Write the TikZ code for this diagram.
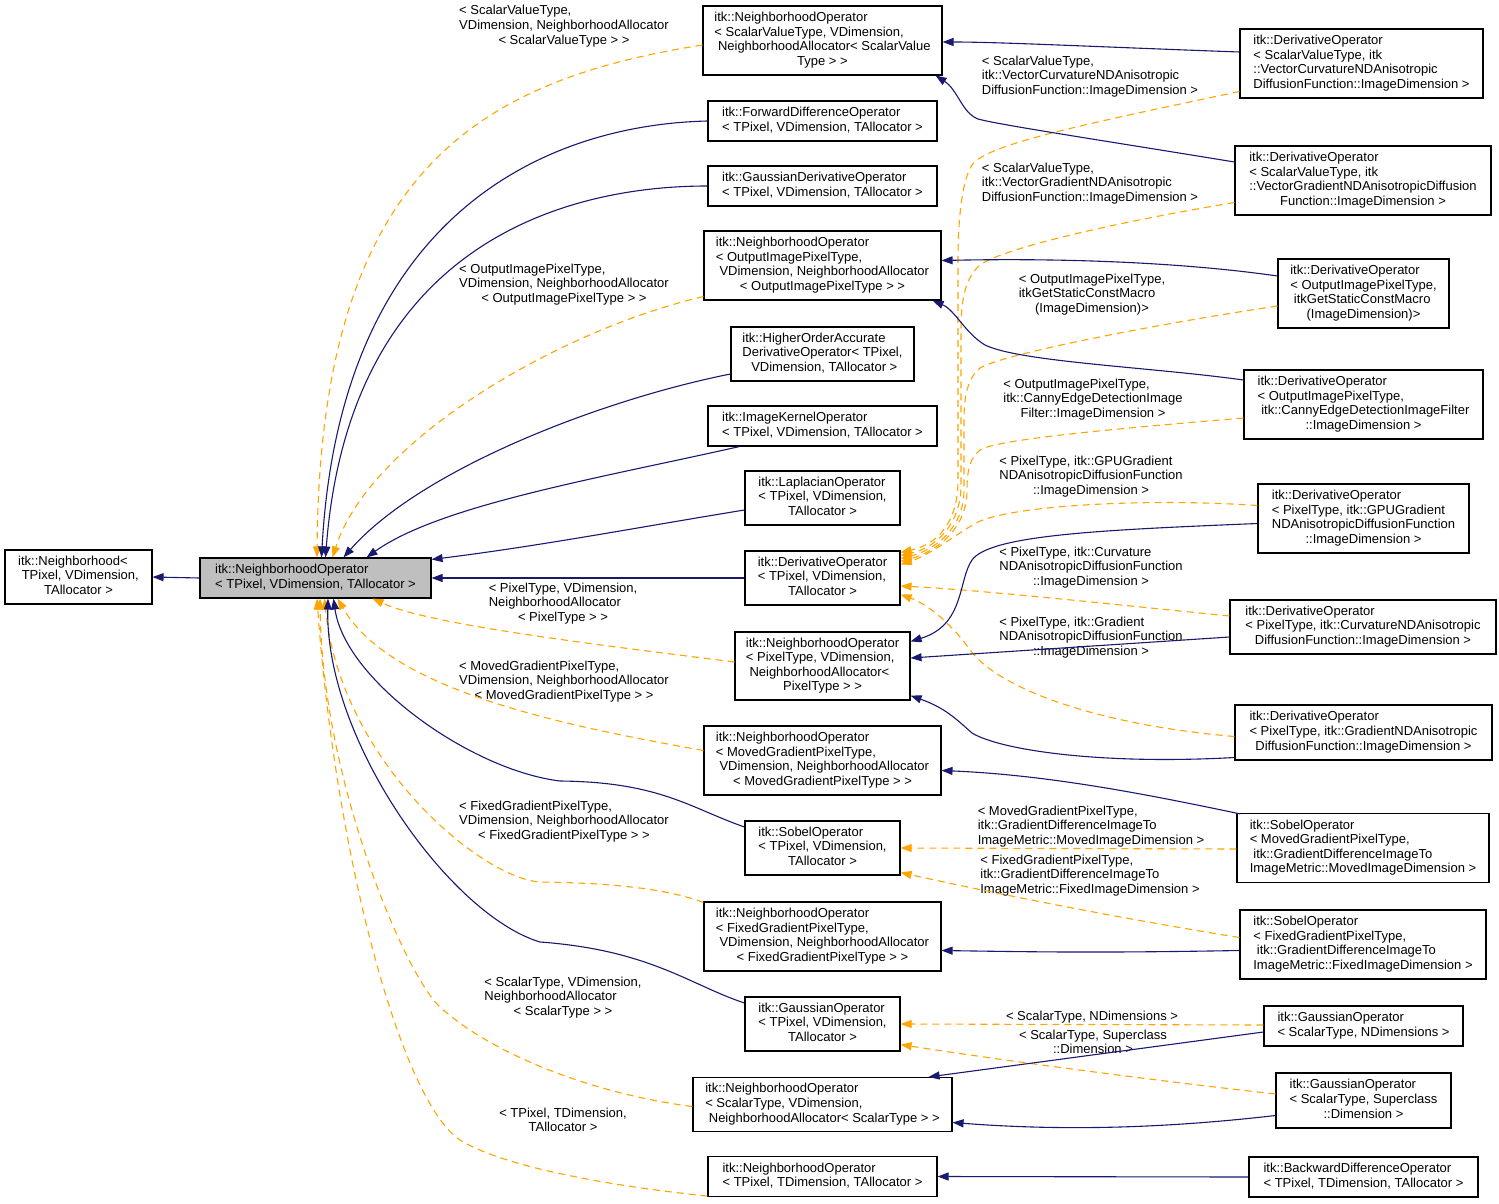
\documentclass[tikz,border=0pt]{standalone}
\usepackage{fontspec}
\setmainfont{Liberation Sans}
\usetikzlibrary{calc,arrows.meta}
\definecolor{navy}{HTML}{191970}
\definecolor{dorange}{HTML}{FFA500}
\definecolor{basegray}{HTML}{BFBFBF}
\newcommand{\tb}[1]{\begin{tabular}{@{}l@{}}#1\end{tabular}}
\newcommand{\lc}[1]{\multicolumn{1}{@{}c@{}}{#1}}
\tikzset{
  cls/.style={draw=black, line width=1.1pt, fill=white, inner sep=0pt, font=\fontsize{13}{14.6}\selectfont},
  base/.style={cls, fill=basegray},
  sz/.style n args={2}{minimum width=#1pt, minimum height=#2pt},
  lbl/.style={inner sep=0pt, font=\fontsize{13}{14.6}\selectfont},
  inh/.style={draw=navy, line width=1.1pt, -{Triangle[length=11pt,width=8pt]}},
  tpl/.style={draw=dorange, line width=1.1pt, dash pattern=on 7pt off 5pt, -{Triangle[length=11pt,width=8pt]}}
}
\begin{document}
\begin{tikzpicture}[x=1pt,y=-1pt]
\fill[white] (0,0) rectangle (1499,1204);
\useasboundingbox (0,0) rectangle (1499,1204);

% ---------- nodes ----------
\node[base, sz={231}{40}] (Main) at (315.5,578) {\tb{itk::NeighborhoodOperator\\< TPixel, VDimension, TAllocator >}};
\node[cls, sz={147}{54}] (N0) at (78.5,577) {\tb{itk::Neighborhood<\\\ TPixel, VDimension,\\\lc{TAllocator >}}};

\node[cls, sz={239}{69}] (NOSV) at (822.5,40.5) {\tb{itk::NeighborhoodOperator\\< ScalarValueType, VDimension,\\\ NeighborhoodAllocator< ScalarValue\\\lc{Type > >}}};
\node[cls, sz={229}{40}] (FDO) at (822.5,121) {\tb{itk::ForwardDifferenceOperator\\< TPixel, VDimension, TAllocator >}};
\node[cls, sz={229}{40}] (GDO) at (822.5,186) {\tb{itk::GaussianDerivativeOperator\\< TPixel, VDimension, TAllocator >}};
\node[cls, sz={237}{69}] (NOOut) at (822.5,265.5) {\tb{itk::NeighborhoodOperator\\< OutputImagePixelType,\\\ VDimension, NeighborhoodAllocator\\\lc{< OutputImagePixelType > >}}};
\node[cls, sz={183}{54}] (HOA) at (822.5,354) {\tb{itk::HigherOrderAccurate\\DerivativeOperator< TPixel,\\\lc{\ VDimension, TAllocator >}}};
\node[cls, sz={229}{40}] (IKO) at (822.5,426) {\tb{itk::ImageKernelOperator\\< TPixel, VDimension, TAllocator >}};
\node[cls, sz={155}{54}] (LO) at (822.5,498) {\tb{itk::LaplacianOperator\\< TPixel, VDimension,\\\lc{TAllocator >}}};
\node[cls, sz={155}{54}] (DO) at (822.5,578) {\tb{itk::DerivativeOperator\\< TPixel, VDimension,\\\lc{TAllocator >}}};
\node[cls, sz={175}{68}] (NOPix) at (822.5,666) {\tb{itk::NeighborhoodOperator\\< PixelType, VDimension,\\\ NeighborhoodAllocator<\\\lc{PixelType > >}}};
\node[cls, sz={237}{69}] (NOMoved) at (822.5,760.5) {\tb{itk::NeighborhoodOperator\\< MovedGradientPixelType,\\\ VDimension, NeighborhoodAllocator\\\lc{< MovedGradientPixelType > >}}};
\node[cls, sz={155}{54}] (SO) at (822.5,848) {\tb{itk::SobelOperator\\< TPixel, VDimension,\\\lc{TAllocator >}}};
\node[cls, sz={237}{69}] (NOFixed) at (822.5,936.5) {\tb{itk::NeighborhoodOperator\\< FixedGradientPixelType,\\\ VDimension, NeighborhoodAllocator\\\lc{< FixedGradientPixelType > >}}};
\node[cls, sz={155}{54}] (GO) at (822.5,1024) {\tb{itk::GaussianOperator\\< TPixel, VDimension,\\\lc{TAllocator >}}};
\node[cls, sz={259}{54}] (NOScalar) at (822.5,1104.5) {\tb{itk::NeighborhoodOperator\\< ScalarType, VDimension,\\\lc{\ NeighborhoodAllocator< ScalarType > >}}};
\node[cls, sz={229}{40}] (NOTDim) at (822.5,1176.5) {\tb{itk::NeighborhoodOperator\\< TPixel, TDimension, TAllocator >}};

\node[cls, sz={243}{69}] (DOVC) at (1361.5,63.5) {\tb{itk::DerivativeOperator\\< ScalarValueType, itk\\::VectorCurvatureNDAnisotropic\\\lc{DiffusionFunction::ImageDimension >}}};
\node[cls, sz={256}{69}] (DOVG) at (1363,180.5) {\tb{itk::DerivativeOperator\\< ScalarValueType, itk\\::VectorGradientNDAnisotropicDiffusion\\\lc{Function::ImageDimension >}}};
\node[cls, sz={171}{69}] (DOMacro) at (1363.5,293.5) {\tb{itk::DerivativeOperator\\< OutputImagePixelType,\\\ itkGetStaticConstMacro\\\lc{(ImageDimension)>}}};
\node[cls, sz={239}{69}] (DOCanny) at (1363.5,404.5) {\tb{itk::DerivativeOperator\\< OutputImagePixelType,\\\ itk::CannyEdgeDetectionImageFilter\\\lc{::ImageDimension >}}};
\node[cls, sz={211}{69}] (DOGPU) at (1363.5,518.5) {\tb{itk::DerivativeOperator\\< PixelType, itk::GPUGradient\\NDAnisotropicDiffusionFunction\\\lc{::ImageDimension >}}};
\node[cls, sz={266}{54}] (DOCurv) at (1363,627) {\tb{itk::DerivativeOperator\\< PixelType, itk::CurvatureNDAnisotropic\\\lc{DiffusionFunction::ImageDimension >}}};
\node[cls, sz={257}{55}] (DOGrad) at (1363.5,732.5) {\tb{itk::DerivativeOperator\\< PixelType, itk::GradientNDAnisotropic\\\lc{DiffusionFunction::ImageDimension >}}};
\node[cls, sz={252}{69}] (SOMoved) at (1363,848) {\tb{itk::SobelOperator\\< MovedGradientPixelType,\\\ itk::GradientDifferenceImageTo\\\lc{ImageMetric::MovedImageDimension >}}};
\node[cls, sz={246}{69}] (SOFixed) at (1363,944.5) {\tb{itk::SobelOperator\\< FixedGradientPixelType,\\\ itk::GradientDifferenceImageTo\\\lc{ImageMetric::FixedImageDimension >}}};
\node[cls, sz={199}{40}] (GOND) at (1363.5,1026) {\tb{itk::GaussianOperator\\< ScalarType, NDimensions >}};
\node[cls, sz={175}{55}] (GOSuper) at (1363.5,1100.5) {\tb{itk::GaussianOperator\\< ScalarType, Superclass\\\lc{::Dimension >}}};
\node[cls, sz={229}{40}] (BDO) at (1363.5,1177) {\tb{itk::BackwardDifferenceOperator\\< TPixel, TDimension, TAllocator >}};

% ---------- edge labels ----------
\node[lbl] (lSV) at (564,26.5) {\tb{< ScalarValueType,\\VDimension, NeighborhoodAllocator\\\lc{< ScalarValueType > >}}};
\node[lbl] (lOut) at (564,285) {\tb{< OutputImagePixelType,\\VDimension, NeighborhoodAllocator\\\lc{< OutputImagePixelType > >}}};
\node[lbl] (lPix) at (563,604) {\tb{< PixelType, VDimension,\\NeighborhoodAllocator\\\lc{< PixelType > >}}};
\node[lbl] (lMoved) at (564,682) {\tb{< MovedGradientPixelType,\\VDimension, NeighborhoodAllocator\\\lc{< MovedGradientPixelType > >}}};
\node[lbl] (lFixed) at (564,822) {\tb{< FixedGradientPixelType,\\VDimension, NeighborhoodAllocator\\\lc{< FixedGradientPixelType > >}}};
\node[lbl] (lScalar) at (563,998) {\tb{< ScalarType, VDimension,\\NeighborhoodAllocator\\\lc{< ScalarType > >}}};
\node[lbl] (lTDim) at (563,1121.5) {\tb{< TPixel, TDimension,\\\lc{TAllocator >}}};
\node[lbl] (lVC) at (1090,77) {\tb{< ScalarValueType,\\itk::VectorCurvatureNDAnisotropic\\\lc{DiffusionFunction::ImageDimension >}}};
\node[lbl] (lVG) at (1090,184) {\tb{< ScalarValueType,\\itk::VectorGradientNDAnisotropic\\\lc{DiffusionFunction::ImageDimension >}}};
\node[lbl] (lMacro) at (1092,295) {\tb{< OutputImagePixelType,\\itkGetStaticConstMacro\\\lc{(ImageDimension)>}}};
\node[lbl] (lCanny) at (1093,400) {\tb{< OutputImagePixelType,\\itk::CannyEdgeDetectionImage\\\lc{Filter::ImageDimension >}}};
\node[lbl] (lGPU) at (1091,477) {\tb{< PixelType, itk::GPUGradient\\NDAnisotropicDiffusionFunction\\\lc{::ImageDimension >}}};
\node[lbl] (lCurv) at (1091,568) {\tb{< PixelType, itk::Curvature\\NDAnisotropicDiffusionFunction\\\lc{::ImageDimension >}}};
\node[lbl] (lGrad) at (1091,638) {\tb{< PixelType, itk::Gradient\\NDAnisotropicDiffusionFunction\\\lc{::ImageDimension >}}};
\node[lbl] (lMovedR) at (1091,827) {\tb{< MovedGradientPixelType,\\itk::GradientDifferenceImageTo\\\lc{ImageMetric::MovedImageDimension >}}};
\node[lbl] (lFixedR) at (1090,876) {\tb{< FixedGradientPixelType,\\itk::GradientDifferenceImageTo\\\lc{ImageMetric::FixedImageDimension >}}};
\node[lbl] (lND) at (1092,1017) {< ScalarType, NDimensions >};
\node[lbl] (lSuper) at (1093,1043.5) {\tb{< ScalarType, Superclass\\\lc{::Dimension >}}};

% ---------- edges into Main ----------
\draw[inh] (Main.west) -- (N0.east);
\draw[tpl] ($(NOSV.west)+(0,4.5)$) .. controls (480,80) and (320,170) .. ($(Main.north)+(1.5,0)$);
\draw[inh] (FDO.west) .. controls (540,125) and (340,220) .. ($(Main.north)+(6,0)$);
\draw[inh] (GDO.west) .. controls (570,186) and (350,240) .. ($(Main.north)+(10,0)$);
\draw[tpl] ($(NOOut.west)+(0,31)$) .. controls (560,330) and (370,440) .. ($(Main.north)+(17,0)$);
\draw[inh] ($(HOA.west)+(0,20)$) .. controls (600,400) and (420,470) .. ($(Main.north)+(28,0)$);
\draw[inh] ($(IKO.south west)+(32,0)$) .. controls (600,478) and (440,505) .. ($(Main.north)+(51,0)$);
\draw[inh] ($(LO.west)+(0,12)$) .. controls (640,527) and (540,546) .. ($(Main.north east)+(0,2)$);
\draw[inh] (DO.west) -- (Main.east);
\draw[tpl] ($(NOPix.west)+(0,-4)$) .. controls (600,645) and (430,625) .. ($(Main.south)+(57,0)$);
\draw[tpl] ($(NOMoved.west)+(0,-10)$) .. controls (560,725) and (390,690) .. ($(Main.south)+(22,0)$);
\draw[inh] ($(SO.west)+(0,-21)$) .. controls (690,808) and (660,782) .. (560,781) .. controls (470,770) and (345,680) .. ($(Main.south)+(18,0)$);
\draw[tpl] ($(NOFixed.north west)+(0,1)$) .. controls (670,890) and (620,883) .. (540,882) .. controls (480,878) and (340,760) .. ($(Main.south)+(9,0)$);
\draw[inh] ($(GO.west)+(0,-21)$) .. controls (690,985) and (650,950) .. (540,942) .. controls (450,915) and (325,740) .. ($(Main.south)+(12.5,0)$);
\draw[tpl] ($(NOScalar.west)+(0,2)$) .. controls (600,1095) and (495,1057) .. (440,1007) .. controls (405,975) and (322,780) .. ($(Main.south)+(4.5,0)$);
\draw[tpl] ($(NOTDim.south west)+(0,-1)$) .. controls (600,1185) and (500,1165) .. (460,1140) .. controls (400,1100) and (335,850) .. ($(Main.south)+(1.5,0)$);

% ---------- right column: templates into DO / SO / GO ----------
\draw[tpl] ($(DOVC.west)+(0,28)$) .. controls (1080,125) and (985,145) .. (972,165) .. controls (962,180) and (958,220) .. (958,260) -- (958,480) .. controls (958,525) and (935,545) .. ($(DO.north east)+(0,2)$);
\draw[tpl] ($(DOVG.west)+(0,22)$) .. controls (1100,225) and (1000,250) .. (980,265) .. controls (965,278) and (961,300) .. (961,330) -- (961,485) .. controls (961,525) and (935,548) .. ($(DO.north east)+(0,5)$);
\draw[tpl] ($(DOMacro.west)+(0,12.5)$) .. controls (1150,325) and (1000,355) .. (980,368) .. controls (968,378) and (964,395) .. (964,420) -- (964,490) .. controls (964,528) and (935,550) .. ($(DO.north east)+(0,8)$);
\draw[tpl] ($(DOCanny.west)+(0,13.5)$) .. controls (1100,430) and (995,440) .. (980,450) .. controls (970,458) and (967,470) .. (967,490) .. controls (967,530) and (935,552) .. ($(DO.north east)+(0,11)$);
\draw[tpl] ($(DOGPU.west)+(0,-13)$) .. controls (1150,498) and (1010,505) .. (976,523) .. controls (955,535) and (930,555) .. ($(DO.north east)+(0,14)$);
\draw[tpl] ($(DOCurv.west)+(0,-11)$) .. controls (1100,603) and (980,590) .. ($(DO.east)+(0,8)$);
\draw[tpl] ($(DOGrad.west)+(0,4)$) .. controls (1100,725) and (1000,690) .. (970,650) .. controls (955,628) and (930,605) .. ($(DO.south east)+(0,-11)$);
\draw[tpl] ($(SOMoved.west)+(0,1)$) -- (SO.east);
\draw[tpl] ($(SOFixed.west)+(0,-7)$) .. controls (1100,915) and (980,890) .. ($(SO.south east)+(0,-3)$);
\draw[tpl] ($(GOND.west)+(0,-1)$) -- (GO.east);
\draw[tpl] ($(GOSuper.west)+(0,-6.5)$) .. controls (1150,1080) and (1000,1060) .. ($(GO.south east)+(0,-7)$);

% ---------- right column: inheritance ----------
\draw[inh] ($(DOVC.west)+(0,-11.5)$) .. controls (1100,47) and (1000,42) .. ($(NOSV.east)+(0,1.5)$);
\draw[inh] ($(DOVG.west)+(0,-18.5)$) .. controls (1100,140) and (1000,125) .. (978,119) .. controls (962,113) and (958,90) .. ($(NOSV.south east)+(-7,0)$);
\draw[inh] ($(DOMacro.west)+(0,-17.5)$) .. controls (1180,262) and (1060,258) .. ($(NOOut.east)+(0,-5)$);
\draw[inh] ($(DOCanny.west)+(0,-24.5)$) .. controls (1150,367) and (1020,362) .. (985,345) .. controls (965,333) and (955,310) .. ($(NOOut.south east)+(-9,0)$);
\draw[inh] ($(DOGPU.west)+(0,5)$) .. controls (1100,530) and (990,535) .. (972,560) .. controls (958,580) and (965,625) .. ($(NOPix.north east)+(0,10)$);
\draw[inh] ($(DOCurv.west)+(0,10)$) -- ($(NOPix.east)+(0,-8)$);
\draw[inh] ($(DOGrad.west)+(0,25)$) .. controls (1100,765) and (1000,750) .. (972,733) .. controls (955,718) and (945,708) .. ($(NOPix.south east)+(0,-5)$);
\draw[inh] ($(SOMoved.north west)+(4,1)$) .. controls (1150,795) and (1050,775) .. ($(NOMoved.east)+(0,10)$);
\draw[inh] ($(SOFixed.west)+(0,6)$) .. controls (1100,953) and (1040,952) .. ($(NOFixed.east)+(0,14)$);
\draw[inh] ($(GOND.west)+(0,6)$) -- ($(NOScalar.north east)+(-24,0)$);
\draw[inh] ($(GOSuper.west)+(0,15)$) .. controls (1150,1130) and (1050,1130) .. ($(NOScalar.east)+(0,18)$);
\draw[inh] (BDO.west) -- (NOTDim.east);
\end{tikzpicture}
\end{document}
